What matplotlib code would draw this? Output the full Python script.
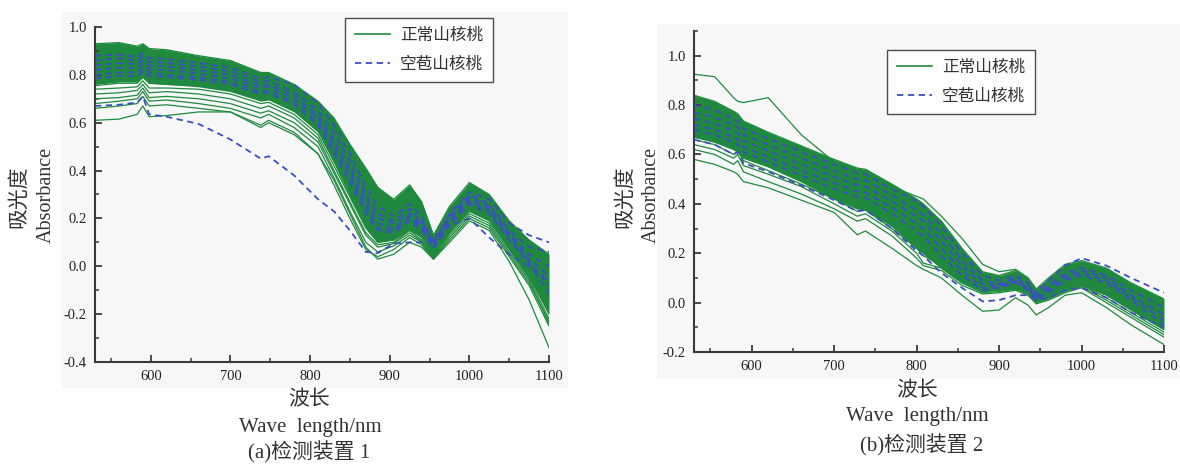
import matplotlib
matplotlib.use("Agg")
import matplotlib.pyplot as plt
from matplotlib.patches import Rectangle
from matplotlib.ticker import MultipleLocator, FuncFormatter
from matplotlib.lines import Line2D
from matplotlib.font_manager import FontProperties

# ---------------- data : panel (a) ----------------
wl_a = [530, 560, 583, 590, 598, 620, 660, 700, 738, 748, 780, 810, 830, 850,
        870, 885, 905, 925, 940, 955, 975, 1000, 1025, 1050, 1075, 1100]

core_top_a = [0.93, 0.935, 0.92, 0.93, 0.91, 0.905, 0.88, 0.86, 0.81, 0.81, 0.76, 0.69, 0.62, 0.51,
              0.41, 0.33, 0.28, 0.34, 0.27, 0.13, 0.25, 0.35, 0.30, 0.19, 0.11, 0.05]
core_bot_a = [0.76, 0.77, 0.77, 0.79, 0.765, 0.76, 0.75, 0.73, 0.69, 0.695, 0.645, 0.56, 0.43, 0.29,
              0.16, 0.10, 0.11, 0.15, 0.12, 0.045, 0.14, 0.23, 0.19, 0.07, -0.05, -0.20]

green_a = [
    [0.93, 0.935, 0.92, 0.93, 0.91, 0.905, 0.88, 0.86, 0.81, 0.81, 0.76, 0.69, 0.62, 0.51, 0.41, 0.33, 0.28, 0.34, 0.27, 0.13, 0.25, 0.35, 0.30, 0.19, 0.11, 0.05],
    [0.91, 0.92, 0.91, 0.92, 0.90, 0.89, 0.87, 0.85, 0.80, 0.80, 0.75, 0.68, 0.60, 0.49, 0.38, 0.30, 0.25, 0.31, 0.25, 0.12, 0.24, 0.33, 0.29, 0.18, 0.09, 0.02],
    [0.89, 0.90, 0.89, 0.905, 0.885, 0.875, 0.855, 0.835, 0.79, 0.79, 0.74, 0.66, 0.58, 0.47, 0.35, 0.27, 0.23, 0.29, 0.22, 0.11, 0.23, 0.32, 0.27, 0.16, 0.07, -0.02],
    [0.87, 0.88, 0.875, 0.89, 0.87, 0.86, 0.84, 0.82, 0.775, 0.78, 0.73, 0.65, 0.56, 0.44, 0.32, 0.24, 0.21, 0.27, 0.20, 0.10, 0.22, 0.31, 0.27, 0.15, 0.05, -0.05],
    [0.85, 0.865, 0.86, 0.875, 0.855, 0.845, 0.83, 0.81, 0.765, 0.77, 0.72, 0.64, 0.54, 0.42, 0.29, 0.21, 0.19, 0.25, 0.19, 0.09, 0.21, 0.30, 0.26, 0.14, 0.04, -0.07],
    [0.83, 0.845, 0.84, 0.86, 0.84, 0.83, 0.815, 0.795, 0.75, 0.755, 0.70, 0.62, 0.52, 0.40, 0.27, 0.19, 0.17, 0.23, 0.18, 0.08, 0.20, 0.29, 0.25, 0.13, 0.02, -0.10],
    [0.81, 0.825, 0.82, 0.84, 0.82, 0.81, 0.80, 0.78, 0.74, 0.745, 0.69, 0.61, 0.50, 0.37, 0.24, 0.17, 0.15, 0.21, 0.16, 0.07, 0.19, 0.28, 0.24, 0.12, 0.01, -0.12],
    [0.79, 0.805, 0.80, 0.82, 0.80, 0.795, 0.785, 0.765, 0.725, 0.73, 0.68, 0.60, 0.48, 0.35, 0.22, 0.15, 0.14, 0.20, 0.15, 0.06, 0.18, 0.27, 0.23, 0.11, 0.0, -0.14],
    [0.77, 0.785, 0.78, 0.805, 0.78, 0.775, 0.77, 0.75, 0.71, 0.715, 0.66, 0.58, 0.46, 0.33, 0.20, 0.13, 0.13, 0.18, 0.14, 0.055, 0.17, 0.26, 0.22, 0.10, -0.01, -0.16],
    [0.755, 0.765, 0.765, 0.79, 0.765, 0.76, 0.755, 0.735, 0.695, 0.70, 0.65, 0.565, 0.44, 0.31, 0.18, 0.115, 0.12, 0.17, 0.13, 0.05, 0.16, 0.25, 0.21, 0.09, -0.02, -0.18],
    [0.74, 0.745, 0.75, 0.775, 0.745, 0.745, 0.74, 0.72, 0.68, 0.685, 0.635, 0.55, 0.42, 0.29, 0.16, 0.10, 0.11, 0.16, 0.12, 0.045, 0.15, 0.24, 0.20, 0.08, -0.04, -0.20],
    [0.72, 0.725, 0.735, 0.76, 0.725, 0.73, 0.72, 0.70, 0.66, 0.67, 0.62, 0.535, 0.40, 0.27, 0.14, 0.09, 0.10, 0.15, 0.11, 0.04, 0.14, 0.23, 0.19, 0.07, -0.05, -0.22],
    [0.70, 0.705, 0.715, 0.745, 0.705, 0.71, 0.70, 0.68, 0.64, 0.65, 0.60, 0.52, 0.39, 0.26, 0.13, 0.08, 0.095, 0.14, 0.105, 0.035, 0.13, 0.22, 0.18, 0.06, -0.06, -0.24],
    [0.68, 0.69, 0.70, 0.73, 0.69, 0.695, 0.68, 0.66, 0.62, 0.635, 0.58, 0.50, 0.37, 0.23, 0.10, 0.06, 0.085, 0.13, 0.10, 0.03, 0.12, 0.21, 0.17, 0.05, -0.07, -0.23],
    [0.66, 0.67, 0.68, 0.71, 0.67, 0.675, 0.66, 0.645, 0.59, 0.61, 0.56, 0.47, 0.34, 0.20, 0.07, 0.04, 0.07, 0.12, 0.09, 0.03, 0.11, 0.20, 0.16, 0.04, -0.08, -0.25],
    [0.61, 0.615, 0.635, 0.67, 0.625, 0.63, 0.645, 0.645, 0.58, 0.60, 0.55, 0.47, 0.36, 0.22, 0.08, 0.03, 0.05, 0.10, 0.08, 0.03, 0.10, 0.19, 0.15, 0.02, -0.14, -0.34],
]

blue_a = [
    [0.88, 0.885, 0.875, 0.89, 0.87, 0.865, 0.85, 0.83, 0.785, 0.79, 0.76, 0.68, 0.59, 0.47, 0.33, 0.25, 0.21, 0.26, 0.21, 0.10, 0.22, 0.31, 0.28, 0.18, 0.13, 0.10],
    [0.86, 0.87, 0.86, 0.875, 0.855, 0.85, 0.835, 0.815, 0.77, 0.775, 0.73, 0.65, 0.56, 0.44, 0.30, 0.22, 0.19, 0.24, 0.19, 0.10, 0.21, 0.30, 0.26, 0.15, 0.08, 0.06],
    [0.84, 0.85, 0.845, 0.86, 0.84, 0.835, 0.82, 0.80, 0.755, 0.76, 0.715, 0.63, 0.53, 0.41, 0.28, 0.20, 0.18, 0.22, 0.18, 0.09, 0.20, 0.29, 0.25, 0.14, 0.05, 0.0],
    [0.82, 0.83, 0.83, 0.845, 0.825, 0.82, 0.805, 0.785, 0.745, 0.75, 0.70, 0.62, 0.51, 0.39, 0.26, 0.18, 0.16, 0.21, 0.17, 0.085, 0.19, 0.28, 0.24, 0.13, 0.03, -0.04],
    [0.80, 0.81, 0.81, 0.83, 0.81, 0.80, 0.79, 0.77, 0.73, 0.735, 0.685, 0.60, 0.49, 0.37, 0.24, 0.16, 0.15, 0.20, 0.16, 0.08, 0.18, 0.27, 0.23, 0.12, 0.02, -0.08],
    [0.785, 0.795, 0.795, 0.815, 0.795, 0.79, 0.78, 0.76, 0.72, 0.725, 0.675, 0.59, 0.47, 0.35, 0.22, 0.15, 0.14, 0.19, 0.15, 0.075, 0.17, 0.26, 0.22, 0.11, 0.01, -0.11],
    [0.67, 0.675, 0.685, 0.71, 0.635, 0.625, 0.595, 0.53, 0.45, 0.46, 0.38, 0.28, 0.23, 0.15, 0.06, 0.055, 0.095, 0.10, 0.10, 0.12, 0.17, 0.20, 0.12, 0.05, 0.0, -0.06],
]

# ---------------- data : panel (b) ----------------
wl_b = [530, 555, 578, 583, 590, 620, 660, 700, 728, 738, 770, 800, 808, 830,
        855, 880, 900, 920, 935, 945, 960, 980, 1000, 1030, 1060, 1100]

core_top_b = [0.84, 0.815, 0.775, 0.765, 0.735, 0.69, 0.635, 0.58, 0.545, 0.54, 0.48, 0.42, 0.40, 0.33,
              0.22, 0.125, 0.11, 0.13, 0.10, 0.055, 0.10, 0.155, 0.17, 0.14, 0.08, 0.015]
core_bot_b = [0.67, 0.65, 0.62, 0.61, 0.585, 0.55, 0.49, 0.42, 0.38, 0.375, 0.31, 0.22, 0.20, 0.14,
              0.08, 0.045, 0.05, 0.055, 0.04, 0.005, 0.02, 0.05, 0.07, 0.03, -0.03, -0.11]

green_b = [
    [0.925, 0.915, 0.83, 0.815, 0.81, 0.83, 0.68, 0.57, 0.53, 0.52, 0.47, 0.43, 0.42, 0.35, 0.26, 0.155, 0.125, 0.135, 0.10, 0.055, 0.08, 0.13, 0.15, 0.12, 0.07, 0.0],
    [0.84, 0.815, 0.775, 0.765, 0.735, 0.69, 0.635, 0.58, 0.545, 0.54, 0.48, 0.42, 0.40, 0.33, 0.22, 0.125, 0.11, 0.13, 0.10, 0.055, 0.10, 0.155, 0.17, 0.14, 0.08, 0.015],
    [0.82, 0.80, 0.76, 0.75, 0.72, 0.675, 0.62, 0.565, 0.53, 0.525, 0.465, 0.405, 0.385, 0.31, 0.20, 0.11, 0.10, 0.12, 0.09, 0.045, 0.09, 0.14, 0.16, 0.13, 0.065, 0.0],
    [0.79, 0.77, 0.735, 0.725, 0.695, 0.655, 0.60, 0.545, 0.51, 0.505, 0.445, 0.385, 0.365, 0.29, 0.18, 0.10, 0.09, 0.11, 0.08, 0.035, 0.08, 0.13, 0.15, 0.12, 0.05, -0.02],
    [0.76, 0.74, 0.705, 0.695, 0.665, 0.625, 0.57, 0.515, 0.48, 0.475, 0.415, 0.355, 0.335, 0.26, 0.16, 0.085, 0.08, 0.10, 0.07, 0.025, 0.07, 0.12, 0.135, 0.10, 0.03, -0.04],
    [0.73, 0.71, 0.68, 0.67, 0.64, 0.60, 0.545, 0.49, 0.455, 0.45, 0.39, 0.33, 0.31, 0.23, 0.14, 0.07, 0.07, 0.09, 0.06, 0.02, 0.055, 0.10, 0.12, 0.085, 0.015, -0.06],
    [0.70, 0.68, 0.65, 0.64, 0.615, 0.575, 0.515, 0.455, 0.42, 0.415, 0.35, 0.28, 0.26, 0.18, 0.11, 0.055, 0.06, 0.07, 0.05, 0.01, 0.04, 0.08, 0.10, 0.06, 0.0, -0.08],
    [0.67, 0.65, 0.62, 0.61, 0.585, 0.55, 0.49, 0.42, 0.38, 0.375, 0.31, 0.22, 0.20, 0.14, 0.08, 0.045, 0.05, 0.055, 0.04, 0.005, 0.02, 0.05, 0.07, 0.03, -0.03, -0.11],
    [0.66, 0.64, 0.60, 0.615, 0.575, 0.535, 0.48, 0.42, 0.37, 0.375, 0.30, 0.22, 0.19, 0.15, 0.09, 0.05, 0.05, 0.06, 0.04, 0.005, 0.02, 0.05, 0.07, 0.02, -0.04, -0.12],
    [0.64, 0.62, 0.585, 0.60, 0.555, 0.52, 0.47, 0.40, 0.35, 0.36, 0.29, 0.20, 0.16, 0.14, 0.08, 0.04, 0.045, 0.055, 0.035, 0.0, 0.015, 0.045, 0.065, 0.01, -0.05, -0.13],
    [0.62, 0.60, 0.56, 0.575, 0.53, 0.49, 0.44, 0.38, 0.33, 0.34, 0.27, 0.18, 0.15, 0.13, 0.07, 0.035, 0.04, 0.05, 0.03, -0.005, 0.01, 0.04, 0.06, 0.0, -0.06, -0.14],
    [0.58, 0.56, 0.53, 0.52, 0.49, 0.465, 0.415, 0.365, 0.275, 0.29, 0.22, 0.15, 0.135, 0.10, 0.03, -0.035, -0.03, 0.02, -0.01, -0.05, -0.02, 0.03, 0.04, -0.02, -0.09, -0.17],
]

blue_b = [
    [0.80, 0.78, 0.745, 0.735, 0.705, 0.665, 0.61, 0.56, 0.525, 0.52, 0.46, 0.41, 0.39, 0.31, 0.20, 0.11, 0.09, 0.11, 0.08, 0.04, 0.09, 0.15, 0.18, 0.15, 0.10, 0.04],
    [0.77, 0.75, 0.72, 0.71, 0.68, 0.64, 0.585, 0.535, 0.50, 0.495, 0.435, 0.375, 0.355, 0.28, 0.17, 0.09, 0.075, 0.10, 0.07, 0.03, 0.07, 0.12, 0.14, 0.11, 0.05, -0.02],
    [0.745, 0.725, 0.695, 0.685, 0.655, 0.615, 0.56, 0.51, 0.475, 0.47, 0.41, 0.35, 0.33, 0.25, 0.15, 0.075, 0.07, 0.09, 0.06, 0.02, 0.06, 0.11, 0.13, 0.10, 0.03, -0.05],
    [0.72, 0.70, 0.67, 0.66, 0.63, 0.59, 0.535, 0.485, 0.45, 0.445, 0.385, 0.32, 0.30, 0.22, 0.13, 0.06, 0.065, 0.085, 0.055, 0.015, 0.05, 0.10, 0.12, 0.09, 0.02, -0.07],
    [0.70, 0.68, 0.65, 0.64, 0.61, 0.57, 0.515, 0.46, 0.43, 0.425, 0.36, 0.29, 0.27, 0.19, 0.11, 0.05, 0.06, 0.08, 0.05, 0.01, 0.04, 0.09, 0.11, 0.08, 0.01, -0.09],
    [0.66, 0.64, 0.60, 0.61, 0.565, 0.53, 0.475, 0.415, 0.37, 0.375, 0.30, 0.21, 0.19, 0.12, 0.06, 0.005, 0.01, 0.03, 0.03, 0.01, 0.02, 0.05, 0.06, 0.02, -0.04, -0.10],
]

legend_labels = ["正常山核桃", "空苞山核桃"]
x_ticks = [600, 700, 800, 900, 1000, 1100]

# ---------------- styling ----------------
W, H = 1180, 465
GREEN = "#1f8a3e"
BLUE = "#3b4fc0"
SPINE = "#3a3a3a"
BG = "#f7f7f7"
FAM = ["Liberation Serif", "Noto Sans CJK SC"]
plt.rcParams["font.family"] = FAM

fig = plt.figure(figsize=(W / 100, H / 100), dpi=100)
fig.patch.set_facecolor("white")

def px_rect(l, t, r, b):
    return [l / W, 1 - b / H, (r - l) / W, (b - t) / H]

# light grey panel backgrounds
fig.patches.append(Rectangle((62 / W, 1 - 388 / H), (568 - 62) / W, (388 - 12) / H,
                             transform=fig.transFigure, facecolor=BG, edgecolor="none", zorder=-5))
fig.patches.append(Rectangle((657 / W, 1 - 378 / H), (1180 - 657) / W, (378 - 24) / H,
                             transform=fig.transFigure, facecolor=BG, edgecolor="none", zorder=-5))

def draw_panel(ax, wl, ctop, cbot, greens, blues, ylim):
    ax.set_facecolor("none")
    ax.fill_between(wl, cbot, ctop, color=GREEN, lw=0, zorder=1)
    for g in greens:
        ax.plot(wl, g, color=GREEN, lw=0.9, zorder=2)
    for b in blues:
        ax.plot(wl, b, color=BLUE, lw=1.3, ls=(0, (3.5, 2.5)), zorder=3)
    ax.set_xlim(530, 1100)
    ax.set_ylim(*ylim)
    ax.xaxis.set_minor_locator(MultipleLocator(50))
    ax.yaxis.set_major_locator(MultipleLocator(0.2))
    ax.yaxis.set_minor_locator(MultipleLocator(0.1))
    ax.set_xticks(x_ticks)
    for s in ["top", "right"]:
        ax.spines[s].set_visible(False)
    for s in ["left", "bottom"]:
        ax.spines[s].set_color(SPINE)
        ax.spines[s].set_linewidth(1.5)
    ax.tick_params(which="major", direction="in", length=5, width=1.3, color=SPINE,
                   labelsize=10.5, pad=6, labelcolor="#222222")
    ax.tick_params(which="minor", direction="in", length=3, width=1.1, color=SPINE)
    ax.yaxis.set_major_formatter(FuncFormatter(lambda v, p: f"{v:.1f}"))

ax1 = fig.add_axes(px_rect(95, 27, 549, 362))
draw_panel(ax1, wl_a, core_top_a, core_bot_a, green_a, blue_a, (-0.4, 1.0))
ax2 = fig.add_axes(px_rect(694, 31, 1164, 352))
draw_panel(ax2, wl_b, core_top_b, core_bot_b, green_b, blue_b, (-0.2, 1.1))
ax2.set_yticks([-0.2, 0.0, 0.2, 0.4, 0.6, 0.8, 1.0])
ax2.yaxis.set_minor_locator(MultipleLocator(0.1))

handles = [Line2D([], [], color=GREEN, lw=1.2),
           Line2D([], [], color=BLUE, lw=1.3, ls=(0, (3.5, 2.5)))]
lp = FontProperties(family=FAM, size=12)
for ax, (lx, ty) in [(ax1, (345, 18)), (ax2, (887, 50))]:
    leg = ax.legend(handles, legend_labels, loc="upper left",
                    bbox_to_anchor=(lx / W, 1 - ty / H), bbox_transform=fig.transFigure,
                    prop=lp, frameon=True, fancybox=False, handlelength=2.1,
                    handletextpad=0.6, borderpad=0.6, labelspacing=0.75, borderaxespad=0)
    leg.get_frame().set_edgecolor("#222222")
    leg.get_frame().set_linewidth(1.0)
    leg.get_frame().set_facecolor("white")
    for t in leg.get_texts():
        t.set_color("#333333")

TXT = "#333333"
def ftext(x, y, s, **kw):
    fig.text(x / W, 1 - y / H, s, ha="center", va="center", color=TXT, family=FAM, **kw)

# y labels
ftext(20, 197, "吸光度", rotation=90, fontsize=15)
ftext(46, 195, "Absorbance", rotation=90, fontsize=14.5)
ftext(626, 197, "吸光度", rotation=90, fontsize=15)
ftext(651, 195, "Absorbance", rotation=90, fontsize=14.5)

# x labels and captions
ftext(309, 401, "波长", fontsize=15)
ftext(310, 427, "Wave  length/nm", fontsize=15)
ftext(309, 452, "(a)检测装置 1", fontsize=15)
ftext(917, 392, "波长", fontsize=15)
ftext(917, 417, "Wave  length/nm", fontsize=15)
ftext(922, 445, "(b)检测装置 2", fontsize=15)

fig.savefig("out.png", dpi=100, facecolor="white")
